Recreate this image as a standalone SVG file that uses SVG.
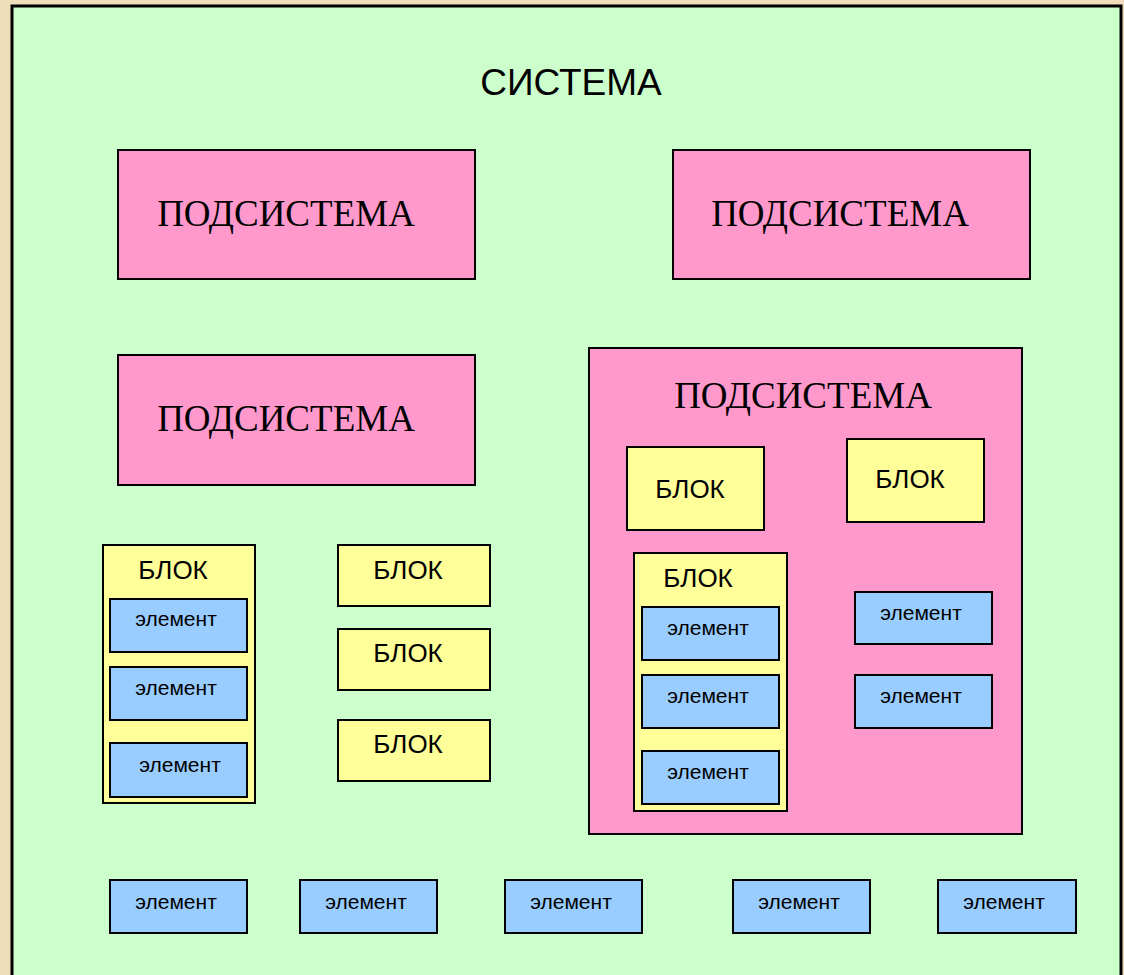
<svg xmlns="http://www.w3.org/2000/svg" width="1124" height="975" viewBox="0 0 1124 975">
  <style>
    .sys { fill: #CCFFCC; stroke: #000; stroke-width: 3; }
    .sub { fill: #FF99CC; stroke: #000; stroke-width: 2; }
    .blk { fill: #FFFF99; stroke: #000; stroke-width: 2; }
    .el  { fill: #99CCFF; stroke: #000; stroke-width: 2; }
    .t-sys { font-family: "Liberation Sans", Arial, sans-serif; font-size: 37px; fill: #000; text-anchor: middle; }
    .t-sub { font-family: "Liberation Serif", "Times New Roman", serif; font-size: 37px; fill: #000; text-anchor: middle; }
    .t-blk { font-family: "Liberation Sans", Arial, sans-serif; font-size: 26px; fill: #000; text-anchor: middle; }
    .t-el  { font-family: "Liberation Sans", Arial, sans-serif; font-size: 21px; fill: #000; text-anchor: middle; }
  </style>

  <!-- page background -->
  <rect x="0" y="0" width="1124" height="975" fill="#F0DDBC"/>

  <!-- system frame -->
  <g id="system">
    <rect class="sys" x="12" y="6" width="1109" height="975"/>
    <text class="t-sys" x="571" y="95">СИСТЕМА</text>
  </g>

  <!-- subsystems -->
  <g id="subsystem-1">
    <rect class="sub" x="118" y="150" width="357" height="129"/>
    <text class="t-sub" x="286" y="226">ПОДСИСТЕМА</text>
  </g>
  <g id="subsystem-2">
    <rect class="sub" x="673" y="150" width="357" height="129"/>
    <text class="t-sub" x="840" y="226">ПОДСИСТЕМА</text>
  </g>
  <g id="subsystem-3">
    <rect class="sub" x="118" y="355" width="357" height="130"/>
    <text class="t-sub" x="286" y="431">ПОДСИСТЕМА</text>
  </g>
  <g id="subsystem-4">
    <rect class="sub" x="589" y="348" width="433" height="486"/>
    <text class="t-sub" x="803" y="408">ПОДСИСТЕМА</text>
  </g>

  <!-- blocks inside subsystem 4 -->
  <g id="block-s4-a">
    <rect class="blk" x="627" y="447" width="137" height="83"/>
    <text class="t-blk" x="690" y="498">БЛОК</text>
  </g>
  <g id="block-s4-b">
    <rect class="blk" x="847" y="439" width="137" height="83"/>
    <text class="t-blk" x="910" y="488">БЛОК</text>
  </g>
  <g id="block-s4-c">
    <rect class="blk" x="634" y="553" width="153" height="258"/>
    <text class="t-blk" x="698" y="587">БЛОК</text>
  </g>
  <g id="element-s4-c1">
    <rect class="el" x="642" y="607" width="137" height="53"/>
    <text class="t-el" x="708" y="635">элемент</text>
  </g>
  <g id="element-s4-c2">
    <rect class="el" x="642" y="675" width="137" height="53"/>
    <text class="t-el" x="708" y="703">элемент</text>
  </g>
  <g id="element-s4-c3">
    <rect class="el" x="642" y="751" width="137" height="53"/>
    <text class="t-el" x="708" y="779">элемент</text>
  </g>
  <g id="element-s4-d1">
    <rect class="el" x="855" y="592" width="137" height="52"/>
    <text class="t-el" x="921" y="620">элемент</text>
  </g>
  <g id="element-s4-d2">
    <rect class="el" x="855" y="675" width="137" height="53"/>
    <text class="t-el" x="921" y="703">элемент</text>
  </g>

  <!-- left block with elements -->
  <g id="block-left">
    <rect class="blk" x="103" y="545" width="152" height="258"/>
    <text class="t-blk" x="173" y="579">БЛОК</text>
  </g>
  <g id="element-left-1">
    <rect class="el" x="110" y="599" width="137" height="53"/>
    <text class="t-el" x="176" y="626">элемент</text>
  </g>
  <g id="element-left-2">
    <rect class="el" x="110" y="667" width="137" height="53"/>
    <text class="t-el" x="176" y="695">элемент</text>
  </g>
  <g id="element-left-3">
    <rect class="el" x="110" y="743" width="137" height="54"/>
    <text class="t-el" x="180" y="772">элемент</text>
  </g>

  <!-- standalone blocks -->
  <g id="block-mid-1">
    <rect class="blk" x="338" y="545" width="152" height="61"/>
    <text class="t-blk" x="408" y="579">БЛОК</text>
  </g>
  <g id="block-mid-2">
    <rect class="blk" x="338" y="629" width="152" height="61"/>
    <text class="t-blk" x="408" y="662">БЛОК</text>
  </g>
  <g id="block-mid-3">
    <rect class="blk" x="338" y="720" width="152" height="61"/>
    <text class="t-blk" x="408" y="753">БЛОК</text>
  </g>

  <!-- standalone elements along the bottom -->
  <g id="element-bottom-1">
    <rect class="el" x="110" y="880" width="137" height="53"/>
    <text class="t-el" x="176" y="909">элемент</text>
  </g>
  <g id="element-bottom-2">
    <rect class="el" x="300" y="880" width="137" height="53"/>
    <text class="t-el" x="366" y="909">элемент</text>
  </g>
  <g id="element-bottom-3">
    <rect class="el" x="505" y="880" width="137" height="53"/>
    <text class="t-el" x="571" y="909">элемент</text>
  </g>
  <g id="element-bottom-4">
    <rect class="el" x="733" y="880" width="137" height="53"/>
    <text class="t-el" x="799" y="909">элемент</text>
  </g>
  <g id="element-bottom-5">
    <rect class="el" x="938" y="880" width="138" height="53"/>
    <text class="t-el" x="1004" y="909">элемент</text>
  </g>

  <!-- no connectors in this diagram -->
  <g id="connectors"/>
</svg>
